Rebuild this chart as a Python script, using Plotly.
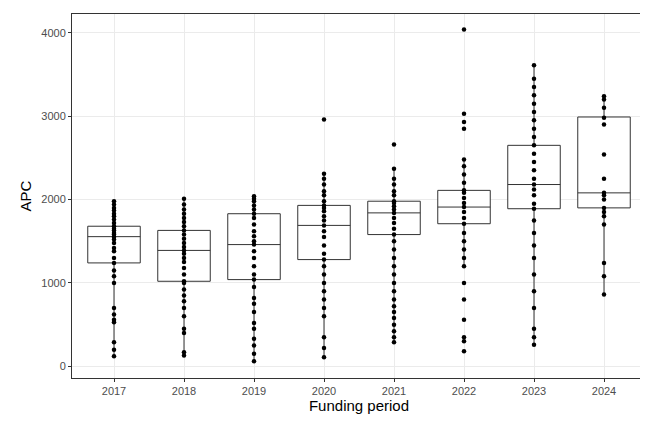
import plotly.graph_objects as go

years = ["2017", "2018", "2019", "2020", "2021", "2022", "2023", "2024"]
q1 = [1240, 1020, 1040, 1280, 1580, 1710, 1890, 1900]
median = [1555, 1390, 1460, 1690, 1840, 1910, 2180, 2080]
q3 = [1680, 1630, 1830, 1930, 1980, 2110, 2650, 2990]
lower = [120, 130, 60, 110, 290, 1200, 260, 860]
upper = [1980, 2010, 2040, 2310, 2370, 2480, 3610, 3240]

apc = {
    "2017": [120, 200, 290, 530, 560, 620, 700, 1000, 1080, 1150, 1240, 1300, 1380, 1420, 1480,
             1520, 1550, 1580, 1600, 1630, 1650, 1680, 1720, 1760, 1800, 1830, 1870, 1900, 1940, 1980],
    "2018": [130, 170, 400, 450, 600, 700, 780, 850, 920, 1000, 1020, 1100, 1180, 1250, 1300, 1350,
             1390, 1430, 1480, 1530, 1580, 1630, 1680, 1730, 1780, 1830, 1880, 1940, 2010],
    "2019": [60, 150, 250, 330, 450, 520, 650, 750, 820, 950, 1040, 1100, 1200, 1300, 1380, 1460,
             1500, 1560, 1620, 1700, 1780, 1830, 1880, 1930, 1980, 2010, 2040],
    "2020": [110, 220, 350, 600, 700, 800, 900, 1000, 1100, 1200, 1280, 1350, 1450, 1550, 1620,
             1690, 1750, 1800, 1860, 1900, 1930, 1980, 2050, 2100, 2180, 2250, 2310, 2960],
    "2021": [290, 350, 420, 500, 580, 650, 720, 800, 900, 1000, 1100, 1200, 1300, 1400, 1500,
             1580, 1650, 1720, 1780, 1840, 1880, 1920, 1960, 1980, 2050, 2100, 2180, 2250, 2370, 2660],
    "2022": [180, 300, 350, 560, 800, 1000, 1200, 1300, 1400, 1500, 1600, 1710, 1780, 1850, 1910,
             1960, 2020, 2080, 2110, 2200, 2300, 2400, 2480, 2850, 2930, 3030, 4040],
    "2023": [260, 350, 450, 700, 900, 1100, 1300, 1450, 1600, 1750, 1890, 1950, 2050, 2120, 2180,
             2250, 2350, 2450, 2550, 2650, 2750, 2850, 2950, 3050, 3150, 3250, 3350, 3450, 3610],
    "2024": [860, 1080, 1240, 1700, 1800, 1850, 1900, 2000, 2050, 2080, 2250, 2540, 2900, 2980,
             3100, 3200, 3240],
}

xs = list(range(len(years)))
fig = go.Figure()
fig.add_trace(go.Box(
    x=xs, q1=q1, median=median, q3=q3, lowerfence=lower, upperfence=upper,
    fillcolor="white", line=dict(color="#333333", width=1), width=0.75, whiskerwidth=0,
    boxpoints=False, hoverinfo="skip", showlegend=False,
))
px, py = [], []
for i, yr in enumerate(years):
    px += [i] * len(apc[yr])
    py += apc[yr]
fig.add_trace(go.Scatter(x=px, y=py, mode="markers",
                         marker=dict(color="black", size=4.5), showlegend=False))

axis_common = dict(showline=True, linecolor="#333333", mirror=True, ticks="outside",
                   ticklen=3, tickcolor="#333333", gridcolor="#ebebeb",
                   tickfont=dict(size=11, color="#4d4d4d"), zeroline=False)
fig.update_layout(
    width=648, height=432, plot_bgcolor="white", paper_bgcolor="white",
    margin=dict(l=64, r=10, t=6, b=62),
    font=dict(family="Liberation Sans, Arial, sans-serif"),
    xaxis=dict(tickvals=xs, ticktext=years, range=[-0.6, 7.6],
               title=dict(text="Funding period", font=dict(size=15, color="black"), standoff=4),
               **axis_common),
    yaxis=dict(range=[-140, 4225], tickvals=[0, 1000, 2000, 3000, 4000],
               title=dict(text="APC", font=dict(size=15, color="black"), standoff=6),
               **axis_common),
)
fig.write_html("out.html")
